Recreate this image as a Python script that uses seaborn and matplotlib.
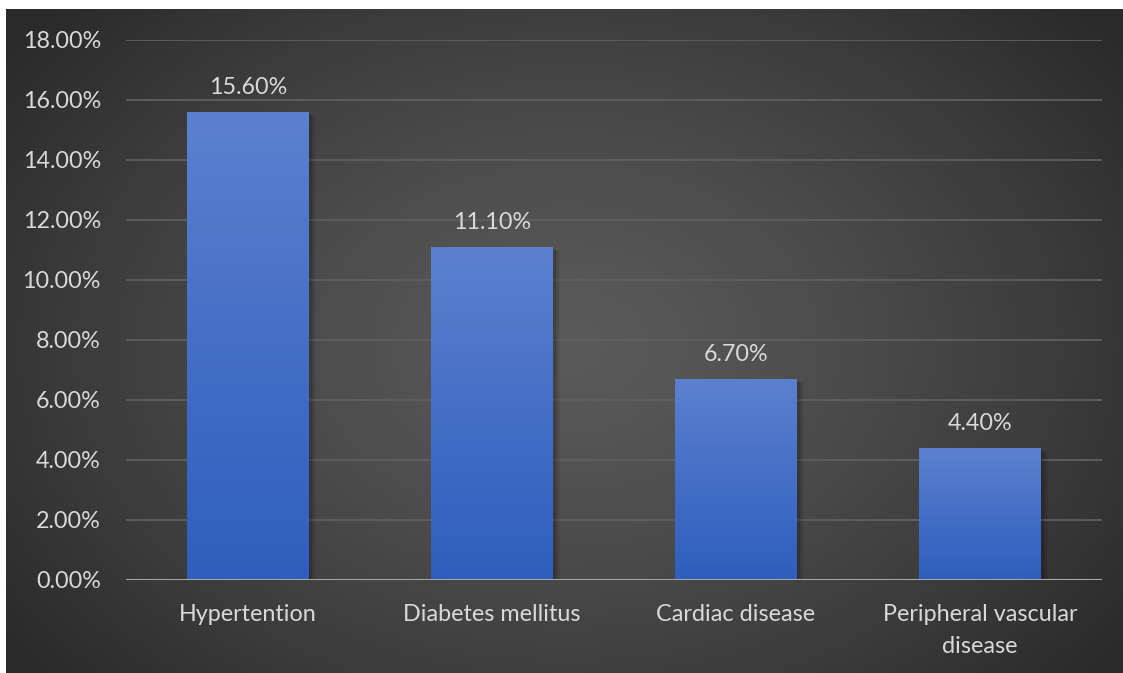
import numpy as np
import matplotlib
matplotlib.use("Agg")
import matplotlib.pyplot as plt
import matplotlib.transforms as mtransforms
from matplotlib.patches import Rectangle
from matplotlib.colors import LinearSegmentedColormap, to_rgb
import pandas as pd
import seaborn as sns

# Prevalence of comorbidities (%)
categories = ["Hypertention", "Diabetes mellitus", "Cardiac disease",
              "Peripheral vascular\ndisease"]
rates = [15.6, 11.1, 6.7, 4.4]
y_ticks = [0, 2, 4, 6, 8, 10, 12, 14, 16, 18]

sns.set_theme(style="dark")
plt.rcParams["font.family"] = ["Lato", "DejaVu Sans"]

TEXT = "#d9d9d9"
FS = 16.8
W, H = 1123, 673
EDGE = "#2a2a2a"

fig = plt.figure(figsize=(W / 100, H / 100), dpi=100, facecolor=EDGE)

# Dark radial-gradient backdrop
bg = fig.add_axes([6 / W, -0.02, 1.0, (H - 9) / H + 0.02])
bg.set_axis_off()
ny, nx = 340, 560
yy, xx = np.mgrid[0:1:ny * 1j, 0:1:nx * 1j]
r = np.sqrt(((xx - 0.50) / 0.62) ** 2 + ((yy - 0.50) / 0.75) ** 2)
r = np.clip(r, 0, 1)
c_in = np.array(to_rgb("#5a5a5a"))
c_out = np.array(to_rgb(EDGE))
t = r[..., None] ** 1.3
img = c_in * (1 - t) + c_out * t
bg.imshow(img, extent=[0, 1, 0, 1], aspect="auto", interpolation="bilinear")
bg.set_xlim(0, 1)
bg.set_ylim(0, 1)

# White margin along the top and left edges
fig.add_artist(Rectangle((0, (H - 9) / H), 1, 9 / H, transform=fig.transFigure,
                         color="white", lw=0, zorder=10))
fig.add_artist(Rectangle((0, 0), 6 / W, 1, transform=fig.transFigure,
                         color="white", lw=0, zorder=10))

# Main chart
ax = fig.add_axes([126 / W, 93 / H, 976 / W, 540 / H])
ax.patch.set_alpha(0)

df = pd.DataFrame({"category": categories, "rate": rates})
sns.barplot(data=df, x="category", y="rate", ax=ax, width=0.5,
            color="#4472c4", saturation=1, linewidth=0, edgecolor="none",
            zorder=3)

bar_cmap = LinearSegmentedColormap.from_list("bar", ["#2e5ebd", "#5b80cf"])
grad = np.linspace(0, 1, 256)[:, None][::-1]
for p in list(ax.patches):
    x0, w, h = p.get_x(), p.get_width(), p.get_height()
    # soft drop shadow
    for k, a in [(7, 0.06), (5, 0.09), (3, 0.12)]:
        off = mtransforms.offset_copy(ax.transData, fig=fig, x=k, y=-k / 2, units="dots")
        ax.add_patch(Rectangle((x0, 0), w, h, transform=off, color="black",
                               alpha=a, lw=0, zorder=2))
    im = ax.imshow(grad, extent=[x0, x0 + w, 0, h], aspect="auto",
                   cmap=bar_cmap, zorder=3.5, interpolation="bilinear")
    im.set_clip_path(p)

ax.set_xlim(-0.5, len(categories) - 0.5)
ax.set_ylim(0, 18)
ax.set_yticks(y_ticks)
ax.set_yticklabels([f"{v:.2f}%" for v in y_ticks])
ax.set_xlabel("")
ax.set_ylabel("")

ax.yaxis.grid(True, color="#5f5f5f", lw=1.3)
ax.xaxis.grid(False)
ax.set_axisbelow(True)
for s in ax.spines.values():
    s.set_visible(False)
ax.axhline(0, color="#a6a6a6", lw=2.2, zorder=5)

ax.tick_params(axis="y", length=0, pad=18, labelsize=FS, labelcolor=TEXT)
ax.tick_params(axis="x", length=0, pad=17.5, labelsize=FS, labelcolor=TEXT)
for lbl in ax.get_xticklabels():
    lbl.set_linespacing(1.65)

for i, v in enumerate(rates):
    ax.annotate(f"{v:.2f}%", (i, v), xytext=(0, 10), textcoords="offset points",
                ha="center", va="bottom", fontsize=FS, color=TEXT, zorder=6)

fig.savefig("out.png", dpi=100, facecolor=EDGE)
